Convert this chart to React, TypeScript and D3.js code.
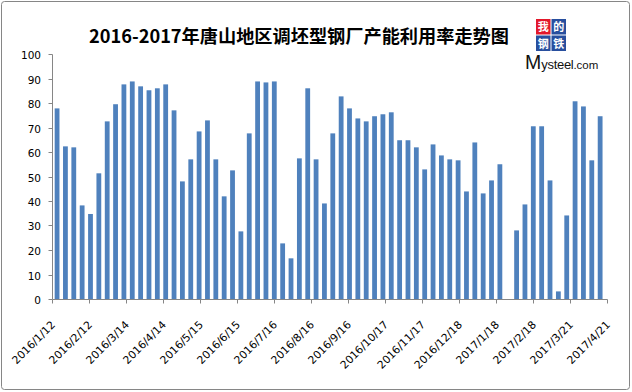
import * as d3 from 'd3';

// weekly survey dates (2017-01-28 missing: spring festival)
const barDates = [
  '2016-01-16', '2016-01-23', '2016-01-30', '2016-02-06', '2016-02-13', '2016-02-20', '2016-02-27',
  '2016-03-05', '2016-03-12', '2016-03-19', '2016-03-26', '2016-04-02', '2016-04-09', '2016-04-16',
  '2016-04-23', '2016-04-30', '2016-05-07', '2016-05-14', '2016-05-21', '2016-05-28', '2016-06-04',
  '2016-06-11', '2016-06-18', '2016-06-25', '2016-07-02', '2016-07-09', '2016-07-16', '2016-07-23',
  '2016-07-30', '2016-08-06', '2016-08-13', '2016-08-20', '2016-08-27', '2016-09-03', '2016-09-10',
  '2016-09-17', '2016-09-24', '2016-10-01', '2016-10-08', '2016-10-15', '2016-10-22', '2016-10-29',
  '2016-11-05', '2016-11-12', '2016-11-19', '2016-11-26', '2016-12-03', '2016-12-10', '2016-12-17',
  '2016-12-24', '2016-12-31',
  '2017-01-07', '2017-01-14', '2017-01-21', '2017-02-04', '2017-02-11', '2017-02-18', '2017-02-25',
  '2017-03-04', '2017-03-11', '2017-03-18', '2017-03-25', '2017-04-01', '2017-04-08', '2017-04-15'
];

const utilization = [
  77.8, 62.3, 61.9, 38.2, 34.7, 51.3, 72.5, 79.5, 87.6, 88.8, 86.8, 85.2, 86, 87.6,
  77, 48, 57, 68.4, 72.9, 57, 41.9, 52.5, 27.6, 67.6, 88.8, 88.4, 88.8, 22.7,
  16.6, 57.4, 86, 57, 39, 67.6, 82.7, 77.8, 73.7, 72.5, 74.6, 75.4, 76.2, 64.8,
  64.8, 61.9, 52.9, 63.1, 58.6, 57, 56.6, 43.9, 63.9,
  43.1, 48.4, 55, 28, 38.6, 70.5, 70.5, 48.4, 3.1, 34.1, 80.7, 78.6, 56.6, 74.6
];

const xTickLabels = [
  '2016/1/12', '2016/2/12', '2016/3/14', '2016/4/14', '2016/5/15', '2016/6/15', '2016/7/16', '2016/8/16',
  '2016/9/16', '2016/10/17', '2016/11/17', '2016/12/18', '2017/1/18', '2017/2/18', '2017/3/21', '2017/4/21'
];

const yTicks = [0, 10, 20, 30, 40, 50, 60, 70, 80, 90, 100];

const title = '2016-2017年唐山地区调坯型钢厂产能利用率走势图';
const logoRows = [['我', '的'], ['钢', '铁']];

const parseDay = d3.utcParse('%Y-%m-%d');
const parseSlash = (s: string) => {
  const p = s.split('/').map(Number);
  return new Date(Date.UTC(p[0], p[1] - 1, p[2]));
};

const App = () => {
  const width = 632;
  const height = 392;
  const margin = { top: 54, right: 24.7, bottom: 93, left: 52.3 };
  const axisColor = '#868686';

  const tickDates = xTickLabels.map(parseSlash);
  const x = d3.scaleUtc()
    .domain([tickDates[0], tickDates[tickDates.length - 1]])
    .range([margin.left, width - margin.right]);
  const y = d3.scaleLinear()
    .domain([0, 100])
    .range([height - margin.bottom, margin.top]);

  const bars = barDates.map((d, i) => ({ date: parseDay(d) as Date, value: utilization[i] }));
  const barW = 4.8;
  const y0 = Math.round(y(0)) + 0.5;
  const xLeft = Math.round(x.range()[0]) + 0.5;

  const logoX = 536;
  const logoY = 19;
  const cellW = 15.5;
  const cellH = 16.5;

  return (
    <svg width={width} height={height} style={{ position: 'absolute', left: 0, top: 0, background: '#fff' }}>
      <rect x={1.5} y={1.5} width={628} height={388} rx={3} fill="#fff" stroke={axisColor} />

      <text x={299} y={43} textAnchor="middle" fontFamily="'Noto Sans CJK SC', sans-serif"
        fontWeight="bold" fontSize={18.2} fill="#000">{title}</text>

      {/* logo */}
      {logoRows.map((row, r) => (
        <g key={r}>
          {row.map((c, k) => (
            <rect key={c} x={logoX + k * cellW} y={logoY + r * cellH} width={14.5} height={15.5}
              fill={r === 0 && k === 0 ? '#e3182b' : '#284f9e'} />
          ))}
          <text fontFamily="'Noto Sans CJK SC', sans-serif" fontSize={11} fontWeight="bold" fill="#fff">
            {row.map((c, k) => (
              <tspan key={c} x={logoX + k * cellW + 7.25} y={logoY + r * cellH + 12} textAnchor="middle">{c}</tspan>
            ))}
          </text>
        </g>
      ))}
      <text x={525} y={69} fontFamily="'Liberation Sans', Arial, sans-serif" fill="#111">
        <tspan fontSize={19.5}>M</tspan>
        <tspan fontSize={13} letterSpacing={-0.3}>ysteel</tspan>
        <tspan fontSize={11.5}>.com</tspan>
      </text>

      {/* bars */}
      {bars.map((b, i) => (
        <rect key={i} x={x(b.date) - barW / 2} y={y(b.value)} width={barW}
          height={y(0) - y(b.value)} fill="#4f81bd" />
      ))}

      {/* y axis */}
      <line x1={xLeft} x2={xLeft} y1={Math.round(y(100)) + 0.5} y2={y0} stroke={axisColor} />
      {yTicks.map(t => {
        const ty = Math.round(y(t)) + 0.5;
        return (
          <g key={t}>
            <line x1={xLeft - 4} x2={xLeft} y1={ty} y2={ty} stroke={axisColor} />
            <text x={41} y={ty} textAnchor="end" dominantBaseline="central"
              fontFamily="'DejaVu Sans', sans-serif" fontSize={10.5} fill="#000">{t}</text>
          </g>
        );
      })}

      {/* x axis */}
      <line x1={xLeft} x2={Math.round(x.range()[1]) + 0.5} y1={y0} y2={y0} stroke={axisColor} />
      {tickDates.map((d, i) => {
        const tx = Math.round(x(d)) + 0.5;
        return (
          <g key={i}>
            <line x1={tx} x2={tx} y1={y0} y2={y0 + 4} stroke={axisColor} />
            <text transform={`translate(${x(d) + 1},${323}) rotate(-45)`} textAnchor="end"
              dominantBaseline="central" fontFamily="'DejaVu Sans', sans-serif" fontSize={10.8}
              fill="#000">{xTickLabels[i]}</text>
          </g>
        );
      })}
    </svg>
  );
};

export default App;
